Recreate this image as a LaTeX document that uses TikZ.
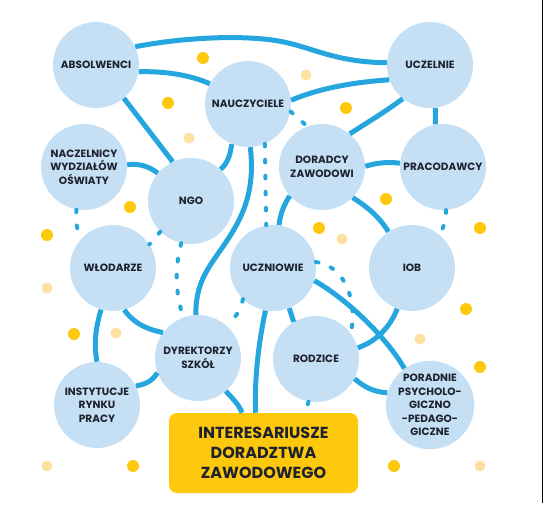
\documentclass[tikz,border=0pt]{standalone}
\usepackage{fontspec}
\setmainfont{Poppins}
\definecolor{krugfill}{RGB}{197,224,245}
\definecolor{liniablue}{RGB}{38,166,222}
\definecolor{zolty}{RGB}{254,200,12}
\definecolor{zoltyjasny}{RGB}{252,226,162}
\definecolor{tekst}{RGB}{30,34,46}

\begin{document}
\begin{tikzpicture}[x=0.75pt,y=0.75pt,yscale=-1,xscale=1,
  krug/.style={circle,fill=krugfill,minimum size=64.5pt,inner sep=0pt,align=center,text=tekst,font=\fontsize{7.9}{10.2}\selectfont\bfseries},
  tytul/.style={rectangle,rounded corners=6pt,fill=zolty,minimum width=141.75pt,minimum height=60pt,inner sep=0pt,align=center,text=tekst,font=\fontsize{12}{15}\selectfont\bfseries},
  linia/.style={draw=liniablue,line width=3.75pt},
  kreski/.style={draw=liniablue,line width=3pt,line cap=round,dash pattern=on 2pt off 10pt},
  kropka/.style={fill=zolty},
  bladakropka/.style={fill=zoltyjasny}]
%uncomment if require: \path (0,512); %set diagram left start at 0, and has height of 512
\useasboundingbox (0,0) rectangle (544,512);

%Shape: Circle
\fill [kropka] (203,58) circle (6) ;
\fill [kropka] (168,103) circle (6) ;
\fill [kropka] (130,207) circle (6) ;
\fill [kropka] (47,235) circle (6) ;
\fill [kropka] (346,108) circle (6) ;
\fill [kropka] (386,199) circle (6) ;
\fill [kropka] (319,228) circle (6) ;
\fill [kropka] (480,228) circle (6) ;
\fill [kropka] (74,334) circle (6) ;
\fill [kropka] (133,466) circle (6) ;
\fill [kropka] (466,309) circle (6) ;
\fill [kropka] (480,367) circle (6) ;
\fill [kropka] (394,466) circle (6) ;
%Shape: Circle
\fill [bladakropka] (189,138) circle (5.5) ;
\fill [bladakropka] (306,75) circle (5.5) ;
\fill [bladakropka] (342,239) circle (5.5) ;
\fill [bladakropka] (47,288) circle (5.5) ;
\fill [bladakropka] (116,333) circle (5.5) ;
\fill [bladakropka] (47,466) circle (5.5) ;
\fill [bladakropka] (420,339) circle (5.5) ;
\fill [bladakropka] (480,466) circle (5.5) ;

% Text Node
\draw (96,65) node [krug] (absolw) {ABSOLWENCI};
\draw (248,104) node [krug] (naucz) {NAUCZYCIELE};
\draw (430,65) node [krug] (uczel) {UCZELNIE};
\draw (84,167) node [krug] (naczel) {NACZELNICY\\WYDZIAŁÓW\\OŚWIATY};
\draw (191,201) node [krug] (ngo) {NGO};
\draw (322,167) node [krug] (doradcy) {DORADCY\\ZAWODOWI};
\draw (443,167) node [krug] (pracod) {PRACODAWCY};
\draw (113,268) node [krug] (wlod) {WŁODARZE};
\draw (273,268) node [krug] (uczn) {UCZNIOWIE};
\draw (412,268) node [krug] (iob) {IOB};
\draw (198,358) node [krug] (dyrek) {DYREKTORZY\\SZKÓŁ};
\draw (316,359) node [krug] (rodz) {RODZICE};
\draw (97,405) node [krug] (instyt) {INSTYTUCJE\\RYNKU\\PRACY};
\draw (430,405) node [krug] (poradn) {PORADNIE\\PSYCHOLO-\\GICZNO\\-PEDAGO-\\GICZNE};
\draw (263.5,453) node [tytul] (tytul) {INTERESARIUSZE\\DORADZTWA\\ZAWODOWEGO};

%Curve Lines
\draw [linia] (absolw.25) .. controls (180,38) and (235,35) .. (272,40) .. controls (310,45) and (330,62) .. (uczel.177) ;
\draw [linia] (absolw.-9) .. controls (165,71) and (190,75) .. (naucz.152) ;
\draw [linia] (absolw.310) -- (ngo.115) ;
\draw [linia] (naucz.5) .. controls (320,88) and (355,82) .. (uczel.200) ;
\draw [linia] (uczel.231) .. controls (385,112) and (368,122) .. (doradcy.50) ;
\draw [linia] (uczel.-83) -- (pracod.100) ;
\draw [linia] (doradcy.1) .. controls (380,162) and (390,162) .. (pracod.175) ;
\draw [linia] (doradcy.-45) .. controls (368,207) and (380,218) .. (iob.123) ;
\draw [linia] (doradcy.222) .. controls (284,204) and (280,215) .. (uczn.82) ;
\draw [linia] (naucz.248) .. controls (230,155) and (228,163) .. (ngo.47) ;
\draw [linia] (naucz.273) .. controls (256,195) and (240,222) .. (222,248) .. controls (205,272) and (196,285) .. (dyrek.93) ;
\draw [linia] (naczel.3) .. controls (140,163) and (150,167) .. (ngo.140) ;
\draw [linia] (wlod.285) .. controls (135,325) and (150,330) .. (dyrek.144) ;
\draw [linia] (wlod.254) .. controls (95,330) and (94,345) .. (instyt.90) ;
\draw [linia] (instyt.26) .. controls (147,384) and (153,380) .. (dyrek.200) ;
\draw [linia] (dyrek.310) .. controls (234,400) and (239,405) .. (tytul.118) ;
\draw [linia] (uczn.260) .. controls (259,340) and (254,380) .. (tytul.101.7) ;
\draw [linia] (uczn.292) -- (rodz.121) ;
\draw [linia] (uczn.343) .. controls (345,298) and (385,335) .. (poradn.125) ;
\draw [linia] (iob.250) .. controls (390,328) and (375,342) .. (rodz.15.6) ;
\draw [linia] (rodz.333) .. controls (365,388) and (375,392) .. (poradn.164) ;

%Dashed Lines
\draw [kreski] (naucz.-10) -- (doradcy.110) ;
\draw [kreski] (naucz.-67) -- (uczn.99) ;
\draw [kreski] (naczel.260) .. controls (75,222) and (77,230) .. (wlod.137) ;
\draw [kreski] (ngo.225) -- (wlod.33) ;
\draw [kreski] (ngo.257) .. controls (174,270) and (176,295) .. (dyrek.110) ;
\draw [kreski] (uczn.226) .. controls (240,312) and (235,318) .. (dyrek.49.5) ;
\draw [kreski] (uczn.8) .. controls (340,265) and (358,292) .. (rodz.36) ;
\draw [kreski] (pracod.-86) .. controls (446,220) and (444,226) .. (iob.50) ;
\draw [kreski] (rodz.-100) -- (tytul.44) ;

%Straight Lines
\draw [color=black,line width=0.6pt] (542,0) -- (542,503) ;

\end{tikzpicture}
\end{document}
